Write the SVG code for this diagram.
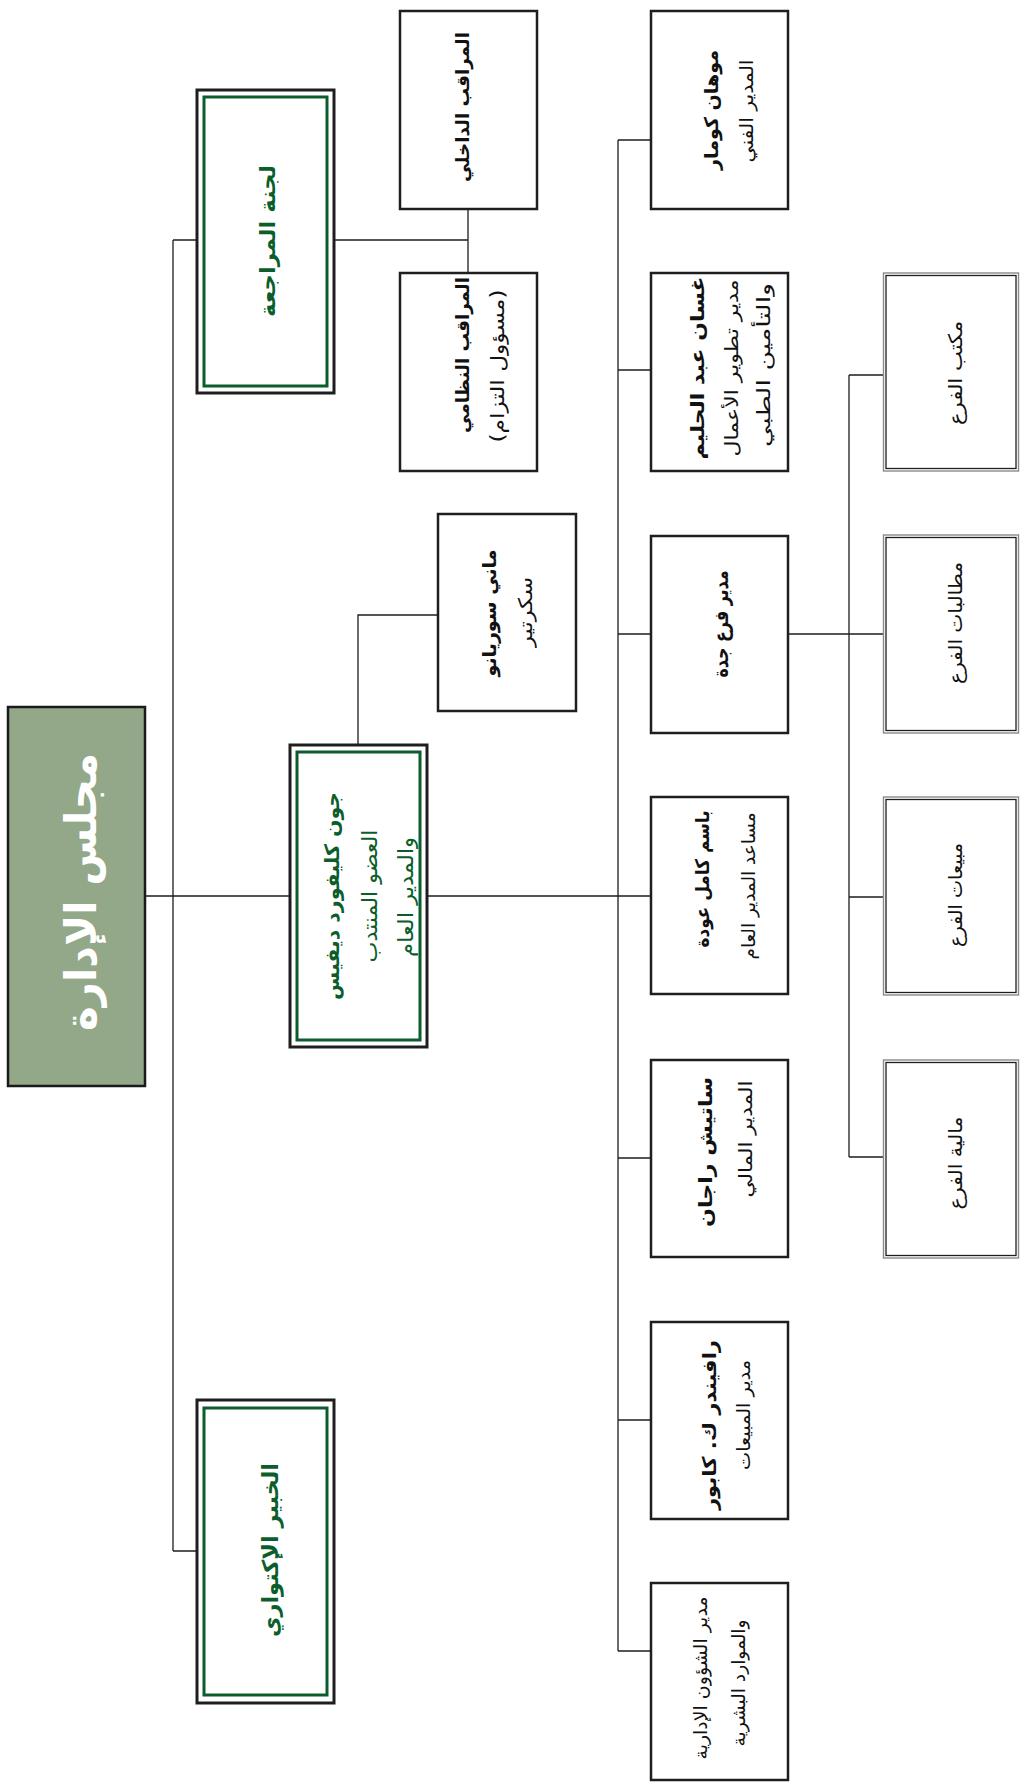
<svg xmlns="http://www.w3.org/2000/svg" width="1020" height="1787" viewBox="0 0 1020 1787">
<style>
.box{fill:#fff;stroke:#1e1e1e;stroke-width:2.5}
.dbo{fill:#fff;stroke:#1e1e1e;stroke-width:3}
.dbi{fill:none;stroke:#0b5e2b;stroke-width:3}
.bro{fill:#fff;stroke:#8a8a8a;stroke-width:1.4}
.bri{fill:none;stroke:#1e1e1e;stroke-width:1.3}
.t{font-family:"DejaVu Sans",sans-serif;dominant-baseline:central;text-anchor:middle;direction:rtl;unicode-bidi:embed;fill:#111}
.b{font-weight:bold}
.g{fill:#0b5e2b}
.con{fill:none;stroke:#1e1e1e;stroke-width:1.3}
</style>
<rect x="0" y="0" width="1020" height="1787" fill="#fff"/>
<g id="connectors">
<path class="con" d="M145 896H291M426 896H651M173 240V1551M173 240H197M173 1551H197M334 240H468M468 209V273M358 744V615H438M618 140V1651M618 140H651M618 370H651M618 634H651M618 1158H651M618 1420H651M618 1651H651M788 634H883M849 375V1157M849 375H883M849 897H883M849 1157H883"/>
</g>
<g id="board">
<rect x="8" y="707" width="137" height="379" fill="#92a888" stroke="#1a1a1a" stroke-width="2.5"/>
<text class="t b" transform="translate(80,892) rotate(-90)" font-size="44" textLength="278" lengthAdjust="spacingAndGlyphs" style="fill:#fff">مجلس الإدارة</text>
</g>
<g id="audit-committee">
<rect class="dbo" x="197" y="90" width="137" height="303"/>
<rect class="dbi" x="204" y="97" width="123" height="289"/>
<text class="t b g" transform="translate(268,241) rotate(-90)" font-size="21" textLength="152" lengthAdjust="spacingAndGlyphs">لجنة المراجعة</text>
</g>
<g id="actuary">
<rect class="dbo" x="197" y="1400" width="137" height="303"/>
<rect class="dbi" x="204" y="1408" width="123" height="287"/>
<text class="t b g" transform="translate(270,1550) rotate(-90)" font-size="22" textLength="174" lengthAdjust="spacingAndGlyphs">الخبير الإكتواري</text>
</g>
<g id="ceo">
<rect class="dbo" x="290" y="745" width="137" height="302"/>
<rect class="dbi" x="297" y="752" width="123" height="288"/>
<text class="t b g" transform="translate(332,896) rotate(-90)" font-size="20" textLength="208" lengthAdjust="spacingAndGlyphs">جون كليفورد ديفيس</text>
<text class="t g" transform="translate(370,896) rotate(-90)" font-size="21" textLength="133" lengthAdjust="spacingAndGlyphs">العضو المنتدب</text>
<text class="t g" transform="translate(406,897) rotate(-90)" font-size="21" textLength="120" lengthAdjust="spacingAndGlyphs">والمدير العام</text>
</g>
<g id="internal-auditor">
<rect class="box" x="400" y="11" width="137" height="198"/>
<text class="t b" transform="translate(462,107) rotate(-90)" font-size="18" textLength="150" lengthAdjust="spacingAndGlyphs">المراقب الداخلي</text>
</g>
<g id="compliance">
<rect class="box" x="400" y="273" width="137" height="198"/>
<text class="t b" transform="translate(462,355) rotate(-90)" font-size="18" textLength="156" lengthAdjust="spacingAndGlyphs">المراقب النظامي</text>
<text class="t" transform="translate(497,366) rotate(-90)" font-size="19" textLength="153" lengthAdjust="spacingAndGlyphs">(مسؤول التزام)</text>
</g>
<g id="secretary">
<rect class="box" x="438" y="514" width="138" height="197"/>
<text class="t b" transform="translate(489,613) rotate(-90)" font-size="19" textLength="127" lengthAdjust="spacingAndGlyphs">ماني سوريانو</text>
<text class="t" transform="translate(525,612) rotate(-90)" font-size="19" textLength="70" lengthAdjust="spacingAndGlyphs">سكرتير</text>
</g>
<g id="cto">
<rect class="box" x="651" y="11" width="137" height="198"/>
<text class="t b" transform="translate(711,110) rotate(-90)" font-size="19" textLength="120" lengthAdjust="spacingAndGlyphs">موهان كومار</text>
<text class="t" transform="translate(746,111) rotate(-90)" font-size="18" textLength="103" lengthAdjust="spacingAndGlyphs">المدير الفني</text>
</g>
<g id="bizdev">
<rect class="box" x="651" y="273" width="137" height="198"/>
<text class="t b" transform="translate(697,368) rotate(-90)" font-size="19" textLength="183" lengthAdjust="spacingAndGlyphs">غسان عبد الحليم</text>
<text class="t" transform="translate(731,368) rotate(-90)" font-size="18" textLength="177" lengthAdjust="spacingAndGlyphs">مدير تطوير الأعمال</text>
<text class="t" transform="translate(763,365) rotate(-90)" font-size="18" textLength="164" lengthAdjust="spacingAndGlyphs">والتأمين الطبي</text>
</g>
<g id="jeddah">
<rect class="box" x="651" y="536" width="137" height="197"/>
<text class="t b" transform="translate(721,624) rotate(-90)" font-size="20" textLength="107" lengthAdjust="spacingAndGlyphs">مدير فرع جدة</text>
</g>
<g id="deputy">
<rect class="box" x="651" y="797" width="137" height="197"/>
<text class="t b" transform="translate(702,879) rotate(-90)" font-size="19" textLength="137" lengthAdjust="spacingAndGlyphs">باسم كامل عودة</text>
<text class="t" transform="translate(748,886) rotate(-90)" font-size="18" textLength="147" lengthAdjust="spacingAndGlyphs">مساعد المدير العام</text>
</g>
<g id="cfo">
<rect class="box" x="651" y="1060" width="137" height="197"/>
<text class="t b" transform="translate(705,1152) rotate(-90)" font-size="19" textLength="150" lengthAdjust="spacingAndGlyphs">ساتيش راجان</text>
<text class="t" transform="translate(745,1139) rotate(-90)" font-size="18" textLength="117" lengthAdjust="spacingAndGlyphs">المدير المالي</text>
</g>
<g id="sales">
<rect class="box" x="651" y="1322" width="137" height="197"/>
<text class="t b" transform="translate(709,1425) rotate(-90)" font-size="19" textLength="170" lengthAdjust="spacingAndGlyphs">رافيندر ك. كابور</text>
<text class="t" transform="translate(743,1415) rotate(-90)" font-size="18" textLength="110" lengthAdjust="spacingAndGlyphs">مدير المبيعات</text>
</g>
<g id="hr">
<rect class="box" x="651" y="1583" width="137" height="197"/>
<text class="t" transform="translate(700,1678) rotate(-90)" font-size="18" textLength="163" lengthAdjust="spacingAndGlyphs">مدير الشؤون الإدارية</text>
<text class="t" transform="translate(738,1683) rotate(-90)" font-size="18" textLength="127" lengthAdjust="spacingAndGlyphs">والموارد البشرية</text>
</g>
<g id="branch-office">
<rect class="bro" x="883.5" y="273" width="135" height="198"/>
<rect class="bri" x="886" y="275.5" width="130" height="193"/>
<text class="t" transform="translate(955,373) rotate(-90)" font-size="19" textLength="104" lengthAdjust="spacingAndGlyphs">مكتب الفرع</text>
</g>
<g id="branch-claims">
<rect class="bro" x="883.5" y="535" width="135" height="198"/>
<rect class="bri" x="886" y="537.5" width="130" height="193"/>
<text class="t" transform="translate(955,623) rotate(-90)" font-size="19" textLength="122" lengthAdjust="spacingAndGlyphs">مطالبات الفرع</text>
</g>
<g id="branch-sales">
<rect class="bro" x="883.5" y="797" width="135" height="198"/>
<rect class="bri" x="886" y="799.5" width="130" height="193"/>
<text class="t" transform="translate(955,895) rotate(-90)" font-size="19" textLength="104" lengthAdjust="spacingAndGlyphs">مبيعات الفرع</text>
</g>
<g id="branch-finance">
<rect class="bro" x="883.5" y="1060" width="135" height="198"/>
<rect class="bri" x="886" y="1062.5" width="130" height="193"/>
<text class="t" transform="translate(955,1163) rotate(-90)" font-size="19" textLength="93" lengthAdjust="spacingAndGlyphs">مالية الفرع</text>
</g>
</svg>
